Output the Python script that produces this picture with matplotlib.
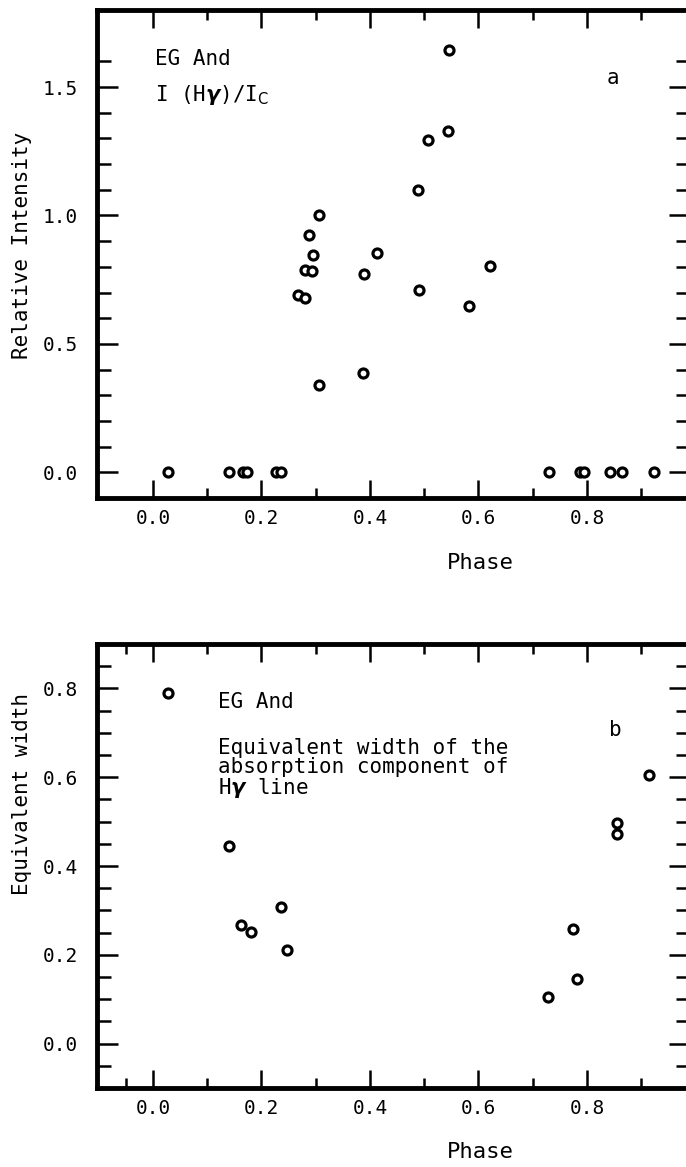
import matplotlib.pyplot as plt
from matplotlib.ticker import FixedLocator, FormatStrFormatter

# panel a: relative intensity of H-gamma emission
phase_a = [0.028, 0.140, 0.166, 0.174, 0.227, 0.236, 0.731, 0.788, 0.795, 0.842, 0.864, 0.924,
           0.306, 0.287, 0.295, 0.413, 0.545, 0.544, 0.508, 0.489, 0.281, 0.294, 0.389,
           0.267, 0.281, 0.387, 0.307, 0.491, 0.622, 0.583]
intens_a = [0.0, 0.0, 0.0, 0.0, 0.0, 0.0, 0.0, 0.0, 0.0, 0.0, 0.0, 0.0,
            1.00, 0.925, 0.845, 0.852, 1.643, 1.328, 1.292, 1.098, 0.787, 0.784, 0.774,
            0.689, 0.680, 0.387, 0.341, 0.711, 0.802, 0.646]

# panel b: equivalent width of the absorption component
phase_b = [0.027, 0.141, 0.163, 0.180, 0.237, 0.248, 0.728, 0.775, 0.782, 0.855, 0.856, 0.915]
eqw_b = [0.789, 0.444, 0.267, 0.251, 0.308, 0.211, 0.105, 0.258, 0.145, 0.497, 0.471, 0.604]

xmajor = [0.0, 0.2, 0.4, 0.6, 0.8]

plt.rcParams['font.family'] = ['DejaVu Sans Mono', 'DejaVu Sans']

W, H = 686, 1167
fig = plt.figure(figsize=(W / 100, H / 100), dpi=100)


def fpos(x, y):
    return x / W, 1 - y / H


def style(ax, ymajor, yminor, xminor):
    ax.set_xlim(-0.103, 0.99)
    for s in ax.spines.values():
        s.set_linewidth(3.5)
    ax.xaxis.set_major_locator(FixedLocator(xmajor))
    ax.xaxis.set_minor_locator(FixedLocator(xminor))
    ax.yaxis.set_major_locator(FixedLocator(ymajor))
    ax.yaxis.set_minor_locator(FixedLocator(yminor))
    ax.xaxis.set_major_formatter(FormatStrFormatter('%.1f'))
    ax.yaxis.set_major_formatter(FormatStrFormatter('%.1f'))
    ax.tick_params(which='both', direction='in', top=True, right=True, width=1.8,
                   labelsize=14)
    ax.tick_params(axis='x', which='major', length=13, pad=8)
    ax.tick_params(axis='x', which='minor', length=7)
    ax.tick_params(axis='y', which='major', length=15, pad=14)
    ax.tick_params(axis='y', which='minor', length=10)


# ---- panel a
axA = fig.add_axes([97 / W, 1 - 498 / H, 593 / W, 488 / H])
axA.plot(phase_a, intens_a, 'o', mfc='white', mec='black', ms=6.5, mew=2.3)
axA.set_ylim(-0.1, 1.8)
style(axA, [0.0, 0.5, 1.0, 1.5], [0.1, 0.2, 0.3, 0.4, 0.6, 0.7, 0.8, 0.9, 1.1, 1.2, 1.3, 1.4, 1.6],
      [0.1, 0.3, 0.5, 0.7, 0.9])

fig.text(*fpos(155, 59), 'EG And', fontsize=15, va='center', ha='left')
fig.text(*fpos(155, 95), r'I (H$\boldsymbol{\gamma}$)/I$_{\rm C}$', fontsize=15, va='center', ha='left')
fig.text(*fpos(613, 78), 'a', fontsize=15, va='center', ha='center')
fig.text(*fpos(22, 245), 'Relative Intensity', fontsize=15, rotation=90, va='center', ha='center')
fig.text(*fpos(480, 563), 'Phase', fontsize=16, va='center', ha='center')

# ---- panel b
axB = fig.add_axes([97 / W, 1 - 1088 / H, 593 / W, 444 / H])
axB.plot(phase_b, eqw_b, 'o', mfc='white', mec='black', ms=6.5, mew=2.3)
axB.set_ylim(-0.1, 0.9)
style(axB, [0.0, 0.2, 0.4, 0.6, 0.8],
      [-0.05, 0.05, 0.1, 0.15, 0.25, 0.3, 0.35, 0.45, 0.5, 0.55, 0.65, 0.7, 0.75, 0.85],
      [-0.05, 0.1, 0.3, 0.5, 0.7, 0.9])

fig.text(*fpos(218, 702), 'EG And', fontsize=15, va='center', ha='left')
fig.text(*fpos(218, 738), 'Equivalent width of the\nabsorption component of\nH$\\boldsymbol{\\gamma}$ line',
         fontsize=15, va='top', ha='left', linespacing=0.95)
fig.text(*fpos(615, 730), 'b', fontsize=15, va='center', ha='center')
fig.text(*fpos(22, 794), 'Equivalent width', fontsize=15, rotation=90, va='center', ha='center')
fig.text(*fpos(480, 1152), 'Phase', fontsize=16, va='center', ha='center')

fig.savefig('out.png', dpi=100)
